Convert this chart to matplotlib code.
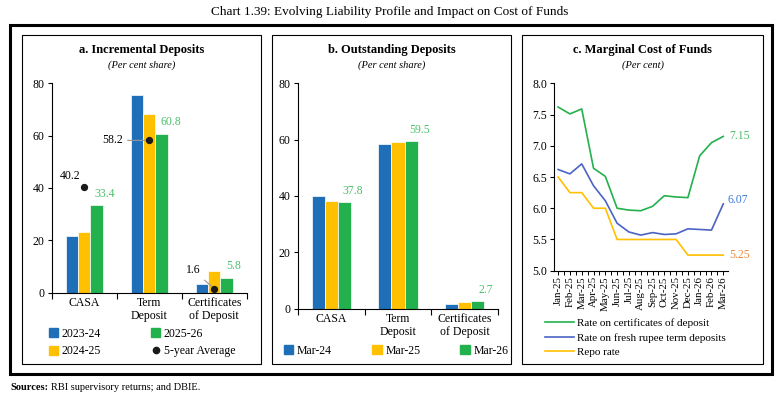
import matplotlib.pyplot as plt
from matplotlib.patches import Rectangle, Patch
from matplotlib.lines import Line2D
import numpy as np

plt.rcParams['font.family'] = ['Liberation Serif', 'DejaVu Serif']

W, H = 780, 401

# ---- data ----
categories = ["CASA", "Term\nDeposit", "Certificates\nof Deposit"]

incr_years = ["2023-24", "2024-25", "2025-26"]
incr_2324 = [21.7, 75.4, 3.3]
incr_2425 = [23.1, 68.4, 8.4]
incr_2526 = [33.4, 60.8, 5.8]
incr_avg5 = [40.2, 58.2, 1.6]

out_dates = ["Mar-24", "Mar-25", "Mar-26"]
out_mar24 = [40.1, 58.3, 1.8]
out_mar25 = [38.3, 59.2, 2.4]
out_mar26 = [37.8, 59.5, 2.7]

months = ["Jan-25", "Feb-25", "Mar-25", "Apr-25", "May-25", "Jun-25", "Jul-25",
          "Aug-25", "Sep-25", "Oct-25", "Nov-25", "Dec-25", "Jan-26", "Feb-26", "Mar-26"]
cd_rate = [7.62, 7.51, 7.59, 6.64, 6.51, 6.00, 5.97, 5.96, 6.03, 6.20, 6.18, 6.17, 6.84, 7.05, 7.15]
td_rate = [6.62, 6.55, 6.71, 6.36, 6.12, 5.76, 5.62, 5.57, 5.61, 5.58, 5.59, 5.67, 5.66, 5.65, 6.07]
repo_rate = [6.50, 6.25, 6.25, 6.00, 6.00, 5.50, 5.50, 5.50, 5.50, 5.50, 5.50, 5.25, 5.25, 5.25, 5.25]

BLUE = "#1F6FB8"
YELLOW = "#FFC000"
GREEN = "#22B14C"
LBLUE = "#4A63C4"
LGREEN = "#4CC06A"
ORANGE = "#F08A3C"

fig = plt.figure(figsize=(W / 100, H / 100), dpi=100)


def px_axes(x0, y0, x1, y1):
    return fig.add_axes([x0 / W, 1 - y1 / H, (x1 - x0) / W, (y1 - y0) / H])


def px_box(x0, y0, x1, y1, lw):
    fig.patches.append(Rectangle((x0 / W, 1 - y1 / H), (x1 - x0) / W, (y1 - y0) / H,
                                 transform=fig.transFigure, fill=False,
                                 edgecolor="black", linewidth=lw))


def fx(x):
    return x / W


def fy(y):
    return 1 - y / H


# frames
px_box(10, 25, 772, 374, 2.2)
px_box(22, 35, 261, 364, 0.8)
px_box(272, 35, 511, 364, 0.8)
px_box(522, 35, 763, 364, 0.8)

fig.text(0.5, fy(12), "Chart 1.39: Evolving Liability Profile and Impact on Cost of Funds",
         ha="center", va="center", fontsize=9.5)
fig.text(fx(10), fy(387), "Sources:", fontweight="bold", fontsize=7.5, va="center")
fig.text(fx(51), fy(387), "RBI supervisory returns; and DBIE.", fontsize=7.5, va="center")

for cx, t in [(141.5, "a. Incremental Deposits"), (391.5, "b. Outstanding Deposits"),
              (642.5, "c. Marginal Cost of Funds")]:
    fig.text(fx(cx), fy(50), t, ha="center", va="center", fontsize=9, fontweight="bold")
fig.text(fx(141.5), fy(65.5), "(Per cent share)", ha="center", va="center", fontsize=7.5, style="italic")
fig.text(fx(391.5), fy(65.5), "(Per cent share)", ha="center", va="center", fontsize=7.5, style="italic")
fig.text(fx(642.5), fy(65.5), "(Per cent)", ha="center", va="center", fontsize=7.5, style="italic")


def style_bar_axis(ax):
    for s in ["top", "right"]:
        ax.spines[s].set_visible(False)
    ax.spines["left"].set_linewidth(0.8)
    ax.spines["bottom"].set_linewidth(0.8)
    ax.set_ylim(0, 80)
    ax.set_yticks([0, 20, 40, 60, 80])
    ax.set_xlim(-0.5, 2.5)
    ax.set_xticks(range(3))
    ax.set_xticklabels(categories, fontsize=8.5, linespacing=1.1)
    ax.set_xticks([-0.5, 0.5, 1.5, 2.5], minor=True)
    ax.tick_params(axis="x", which="major", length=0, pad=3)
    ax.tick_params(axis="x", which="minor", length=4, width=0.8)
    ax.tick_params(axis="y", length=3, width=0.8, labelsize=8.5, pad=2)


x = np.arange(3)
bw = 0.19

# ---- panel a ----
ax1 = px_axes(51.7, 83.3, 246.7, 292.7)
ax1.bar(x - bw, incr_2324, bw, color=BLUE, edgecolor="white", linewidth=0.5)
ax1.bar(x, incr_2425, bw, color=YELLOW, edgecolor="white", linewidth=0.5)
ax1.bar(x + bw, incr_2526, bw, color=GREEN, edgecolor="white", linewidth=0.5)
ax1.scatter(x, incr_avg5, s=18, color="#1a1a1a", zorder=5)
style_bar_axis(ax1)

ax1.annotate(f"{incr_avg5[0]}", (x[0], incr_avg5[0]), xytext=(-10, 4),
             textcoords="offset points", ha="center", va="bottom", fontsize=8.5)
ax1.annotate(f"{incr_avg5[1]}", (x[1], incr_avg5[1]), xytext=(-26, 0),
             textcoords="offset points", ha="center", va="center", fontsize=8.5,
             arrowprops=dict(arrowstyle="-", color="#999999", lw=0.8, shrinkA=1, shrinkB=2))
ax1.annotate(f"{incr_avg5[2]}", (x[2], incr_avg5[2]), xytext=(-15, 13),
             textcoords="offset points", ha="center", va="center", fontsize=8.5,
             arrowprops=dict(arrowstyle="-", color="#999999", lw=0.8, shrinkA=1, shrinkB=2))
for i, dx in zip(range(3), [6, 7, 5]):
    ax1.annotate(f"{incr_2526[i]}", (x[i] + bw, incr_2526[i]), xytext=(dx, 4),
                 textcoords="offset points", ha="center", va="bottom", fontsize=8.5, color=LGREEN)

h1 = [Patch(color=BLUE), Patch(color=YELLOW), Patch(color=GREEN),
      Line2D([], [], marker="o", color="#1a1a1a", linestyle="none", markersize=4.5)]
ax1.legend(h1, incr_years + ["5-year Average"], ncol=2, frameon=False, fontsize=8.5,
           loc="upper left", bbox_to_anchor=(fx(49), fy(328)), bbox_transform=fig.transFigure,
           handlelength=0.8, handleheight=0.8, handletextpad=0.3, columnspacing=4.2,
           labelspacing=0.45, borderaxespad=0, borderpad=0)

# ---- panel b ----
ax2 = px_axes(297.7, 83.3, 498.3, 308.7)
bw2 = 0.195
ax2.bar(x - bw2, out_mar24, bw2, color=BLUE, edgecolor="white", linewidth=0.5)
ax2.bar(x, out_mar25, bw2, color=YELLOW, edgecolor="white", linewidth=0.5)
ax2.bar(x + bw2, out_mar26, bw2, color=GREEN, edgecolor="white", linewidth=0.5)
style_bar_axis(ax2)
for i in range(3):
    ax2.annotate(f"{out_mar26[i]}", (x[i] + bw2, out_mar26[i]), xytext=(6, 4),
                 textcoords="offset points", ha="center", va="bottom", fontsize=8.5, color=LGREEN)

h2 = [Patch(color=BLUE), Patch(color=YELLOW), Patch(color=GREEN)]
ax2.legend(h2, out_dates, ncol=3, frameon=False, fontsize=8.5,
           loc="center left", bbox_to_anchor=(fx(284), fy(351)), bbox_transform=fig.transFigure,
           handlelength=0.8, handleheight=0.8, handletextpad=0.3, columnspacing=3.4,
           borderaxespad=0, borderpad=0)

# ---- panel c ----
ax3 = px_axes(554, 83.3, 728, 270.7)
t = np.arange(len(months))
ax3.plot(t, cd_rate, color=GREEN, lw=1.2, label="Rate on certificates of deposit")
ax3.plot(t, td_rate, color=LBLUE, lw=1.2, label="Rate on fresh rupee term deposits")
ax3.plot(t, repo_rate, color=YELLOW, lw=1.2, label="Repo rate")
for s in ["top", "right"]:
    ax3.spines[s].set_visible(False)
ax3.spines["left"].set_linewidth(0.8)
ax3.spines["bottom"].set_linewidth(0.8)
ax3.set_ylim(5.0, 8.0)
ax3.set_yticks(np.arange(5.0, 8.01, 0.5))
ax3.set_yticklabels([f"{v:.1f}" for v in np.arange(5.0, 8.01, 0.5)])
ax3.set_xlim(-0.35, 14.4)
ax3.set_xticks(t)
ax3.set_xticklabels(months, rotation=90, fontsize=7.8)
ax3.set_xticks(t[:-1] + 0.5, minor=True)
ax3.tick_params(axis="x", which="both", length=3, width=0.7, pad=1)
ax3.tick_params(axis="y", length=3, width=0.8, labelsize=8.5, pad=2)
ax3.annotate(f"{cd_rate[-1]:.2f}", (t[-1], cd_rate[-1]), xytext=(4, 0), textcoords="offset points",
             ha="left", va="center", fontsize=8.5, color=LGREEN)
ax3.annotate(f"{td_rate[-1]:.2f}", (t[-1], td_rate[-1]), xytext=(3, 3), textcoords="offset points",
             ha="left", va="center", fontsize=8.5, color="#3A7BD5")
ax3.annotate(f"{repo_rate[-1]:.2f}", (t[-1], repo_rate[-1]), xytext=(4, 0), textcoords="offset points",
             ha="left", va="center", fontsize=8.5, color=ORANGE)
ax3.legend(frameon=False, fontsize=8, loc="upper left", bbox_to_anchor=(fx(545), fy(318)),
           bbox_transform=fig.transFigure, handlelength=2.6, handletextpad=0.3,
           labelspacing=0.45, borderaxespad=0, borderpad=0)

fig.savefig("out.png", dpi=100)
